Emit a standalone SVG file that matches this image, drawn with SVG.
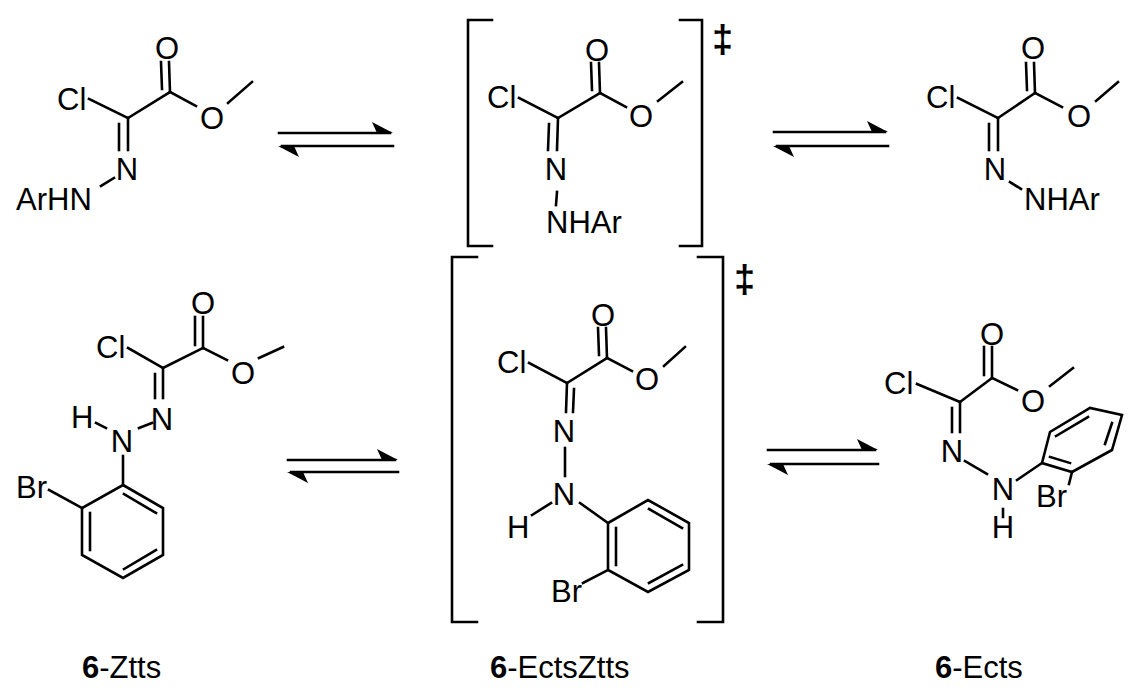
<svg xmlns="http://www.w3.org/2000/svg" width="1138" height="691" viewBox="0 0 1138 691">
<style>
line,polyline,polygon.r{stroke:#000;stroke-width:2.6;fill:none;stroke-linecap:square}
text{font-family:"Liberation Sans",Arial,sans-serif;font-size:31px;fill:#000}
.c{text-anchor:middle}
.b{font-weight:bold}
.dg{font-size:38px;font-weight:bold}
.ah{fill:#000;stroke:none}
</style>
<rect width="1138" height="691" fill="#fff"/>
<!-- top left -->
<g id="m1">
<text x="57" y="110">Cl</text>
<line x1="89" y1="99" x2="128" y2="118"/>
<line x1="128" y1="118" x2="170" y2="92"/>
<line x1="170" y1="92" x2="169" y2="62"/><line x1="162" y1="89" x2="161" y2="62"/>
<text class="c" x="167" y="59">O</text>
<line x1="170" y1="92" x2="196" y2="106"/>
<text class="c" x="212" y="129">O</text>
<line x1="228" y1="103" x2="252" y2="82"/>
<line x1="128" y1="118" x2="128" y2="150"/><line x1="119" y1="124" x2="119" y2="150"/>
<text class="c" x="127" y="180">N</text>
<line x1="114" y1="178" x2="101" y2="186"/>
<text x="16" y="210">ArHN</text>
</g>
<!-- top TS -->
<g id="ts1">
<polyline points="492,20 468,20 468,246 492,246"/>
<polyline points="680,20 702,20 702,246 680,246"/>
<text class="dg" x="712" y="52">‡</text>
<text x="487" y="108">Cl</text>
<line x1="519" y1="98" x2="558" y2="118"/>
<line x1="558" y1="118" x2="600" y2="93"/>
<line x1="600" y1="93" x2="599" y2="63"/><line x1="592" y1="90" x2="591" y2="63"/>
<text class="c" x="597" y="61">O</text>
<line x1="600" y1="93" x2="626" y2="107"/>
<text class="c" x="641" y="127">O</text>
<line x1="658" y1="101" x2="682" y2="82"/>
<line x1="558" y1="118" x2="557" y2="150"/><line x1="549" y1="124" x2="548" y2="150"/>
<text class="c" x="556" y="180">N</text>
<line x1="557" y1="192" x2="556" y2="205"/>
<text x="546" y="233">NHAr</text>
</g>
<!-- top right -->
<g id="m3">
<text x="926" y="108">Cl</text>
<line x1="958" y1="98" x2="998" y2="118"/>
<line x1="998" y1="118" x2="1035" y2="93"/>
<line x1="1035" y1="93" x2="1034" y2="63"/><line x1="1027" y1="90" x2="1026" y2="63"/>
<text class="c" x="1033" y="59">O</text>
<line x1="1035" y1="93" x2="1062" y2="107"/>
<text class="c" x="1079" y="127">O</text>
<line x1="1096" y1="101" x2="1118" y2="82"/>
<line x1="998" y1="118" x2="998" y2="150"/><line x1="989" y1="124" x2="989" y2="150"/>
<text class="c" x="995" y="180">N</text>
<line x1="1010" y1="182" x2="1021" y2="189"/>
<text x="1024" y="210">NHAr</text>
</g>
<!-- bottom left -->
<g id="m4">
<text x="96" y="358">Cl</text>
<line x1="128" y1="348" x2="163" y2="368"/>
<line x1="163" y1="368" x2="203" y2="348"/>
<line x1="203" y1="348" x2="203" y2="317"/><line x1="195" y1="345" x2="195" y2="317"/>
<text class="c" x="203" y="314">O</text>
<line x1="203" y1="348" x2="227" y2="360"/>
<text class="c" x="243" y="384">O</text>
<line x1="259" y1="358" x2="283" y2="347"/>
<line x1="163" y1="368" x2="163" y2="398"/><line x1="155" y1="374" x2="155" y2="398"/>
<text class="c" x="162" y="430">N</text>
<line x1="139" y1="428" x2="152" y2="423"/>
<text class="c" x="122" y="452">N</text>
<text x="71" y="428">H</text>
<line x1="96" y1="423" x2="106" y2="428"/>
<line x1="123" y1="456" x2="123" y2="485"/>
<polygon class="r" points="123,485 163,508 163,555 123,578 82,555 82,508"/>
<line x1="124" y1="494" x2="156" y2="513"/>
<line x1="90" y1="513" x2="90" y2="550"/>
<line x1="124" y1="569" x2="156" y2="550"/>
<text x="16" y="498">Br</text>
<line x1="49" y1="490" x2="82" y2="508"/>
</g>
<!-- bottom TS -->
<g id="ts2">
<polyline points="477,257 452,257 452,622 477,622"/>
<polyline points="698,257 723,257 723,622 698,622"/>
<text class="dg" x="734" y="292">‡</text>
<text x="497" y="373">Cl</text>
<line x1="529" y1="363" x2="567" y2="383"/>
<line x1="567" y1="383" x2="607" y2="358"/>
<line x1="607" y1="358" x2="606" y2="328"/><line x1="599" y1="355" x2="598" y2="328"/>
<text class="c" x="603" y="326">O</text>
<line x1="607" y1="358" x2="632" y2="371"/>
<text class="c" x="647" y="390">O</text>
<line x1="664" y1="366" x2="685" y2="347"/>
<line x1="567" y1="383" x2="566" y2="412"/><line x1="574" y1="389" x2="573" y2="412"/>
<text class="c" x="564" y="442">N</text>
<line x1="565" y1="448" x2="565" y2="476"/>
<text class="c" x="564" y="505">N</text>
<text x="507" y="538">H</text>
<line x1="532" y1="515" x2="551" y2="503"/>
<line x1="580" y1="503" x2="608" y2="523"/>
<polygon class="r" points="608,523 648,500 689,523 689,570 648,592 608,570"/>
<line x1="649" y1="509" x2="682" y2="528"/>
<line x1="616" y1="528" x2="616" y2="565"/>
<line x1="649" y1="583" x2="682" y2="565"/>
<text x="551" y="602">Br</text>
<line x1="583" y1="583" x2="608" y2="570"/>
</g>
<!-- bottom right -->
<g id="m6">
<text x="884" y="394">Cl</text>
<line x1="917" y1="384" x2="960" y2="402"/>
<line x1="960" y1="402" x2="992" y2="378"/>
<line x1="992" y1="378" x2="992" y2="347"/><line x1="984" y1="375" x2="984" y2="347"/>
<text class="c" x="992" y="345">O</text>
<line x1="992" y1="378" x2="1017" y2="390"/>
<text class="c" x="1033" y="412">O</text>
<line x1="1050" y1="386" x2="1073" y2="368"/>
<line x1="960" y1="402" x2="960" y2="432"/><line x1="952" y1="408" x2="952" y2="432"/>
<text class="c" x="952" y="462">N</text>
<line x1="965" y1="461" x2="987" y2="474"/>
<text class="c" x="1003" y="500">N</text>
<line x1="1003" y1="509" x2="1003" y2="517"/>
<text class="c" x="1003" y="538">H</text>
<line x1="1017" y1="480" x2="1042" y2="463"/>
<polygon class="r" points="1042,463 1050,432 1090,408 1122,415 1112,450 1072,472"/>
<line x1="1056" y1="436" x2="1088" y2="417"/>
<line x1="1112" y1="423" x2="1105" y2="444"/>
<line x1="1050" y1="457" x2="1070" y2="463"/>
<text x="1036" y="507">Br</text>
<line x1="1072" y1="472" x2="1069" y2="484"/>
</g>
<!-- arrows -->
<g id="connectors">
<line x1="279" y1="133" x2="390" y2="133"/><polygon class="ah" points="393,133 372,122 377,133"/>
<line x1="282" y1="146" x2="393" y2="146"/><polygon class="ah" points="278,146 299,157 294,146"/>
<line x1="774" y1="132" x2="885" y2="132"/><polygon class="ah" points="888,132 867,121 872,132"/>
<line x1="777" y1="146" x2="888" y2="146"/><polygon class="ah" points="773,146 794,157 789,146"/>
<line x1="288" y1="460" x2="395" y2="460"/><polygon class="ah" points="398,460 377,449 382,460"/>
<line x1="291" y1="472" x2="398" y2="472"/><polygon class="ah" points="287,472 308,483 303,472"/>
<line x1="768" y1="450" x2="875" y2="450"/><polygon class="ah" points="878,450 857,439 862,450"/>
<line x1="771" y1="464" x2="878" y2="464"/><polygon class="ah" points="767,464 788,475 783,464"/>
</g>
<g id="labels">
<text x="82" y="678"><tspan class="b">6</tspan>-Ztts</text>
<text x="490" y="678"><tspan class="b">6</tspan>-EctsZtts</text>
<text x="935" y="678"><tspan class="b">6</tspan>-Ects</text>
</g>
</svg>
